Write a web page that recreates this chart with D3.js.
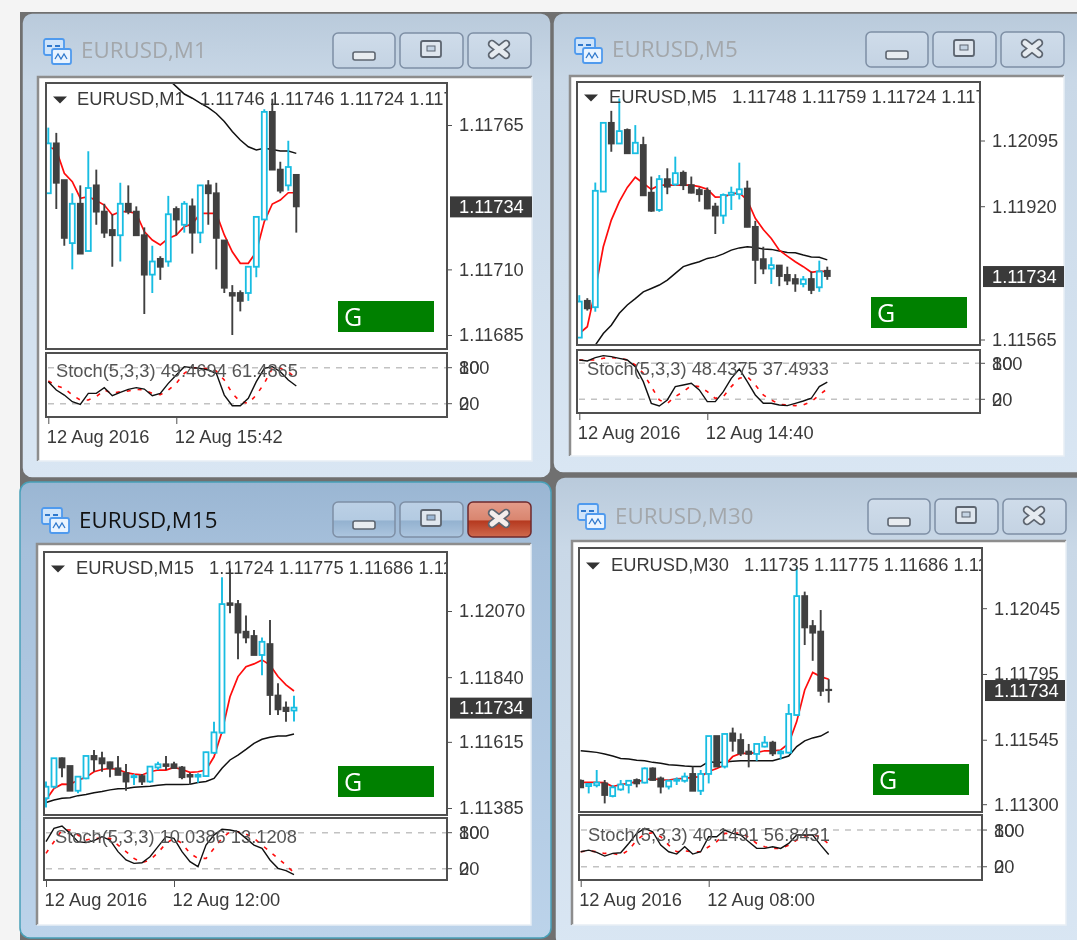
<!DOCTYPE html>
<html><head><meta charset="utf-8">
<script src="https://cdn.jsdelivr.net/npm/d3@7/dist/d3.min.js"></script>
<style>
html,body{margin:0;padding:0;background:#f4f4f4;overflow:hidden}
svg{display:block;filter:blur(0.45px)}
text{white-space:pre}
.axis text,.lbl{font-family:"Liberation Sans",sans-serif;font-size:18.3px;fill:#3a3a3a}
.title{font-family:"Open Sans",sans-serif;font-size:22.3px}
</style></head><body>
<svg id="c" width="1077" height="940"></svg>
<script>
// ---- M1 ----
const m1Open=[1.11739,1.11758,1.11744,1.11720,1.11735,1.11717,1.11742,1.11732,1.11725,1.11723,1.11735,1.11732,1.11723,1.11708,1.11714,1.11713,1.11733,1.11727,1.11734,1.11724,1.11742,1.11739,1.11721,1.11701,1.11701,1.11701,1.11711,1.11729,1.11770,1.11748,1.11742,1.11746];
const m1High=[1.11764,1.11762,1.11744,1.11739,1.11742,1.11755,1.11748,1.11735,1.11731,1.11743,1.11742,1.11734,1.11726,1.11719,1.11715,1.11738,1.11734,1.11736,1.11737,1.11742,1.11744,1.11743,1.11721,1.11704,1.11702,1.11711,1.11730,1.11771,1.11775,1.11751,1.11759,1.11746];
const m1Low=[1.11739,1.11733,1.11719,1.11710,1.11716,1.11717,1.11727,1.11722,1.11711,1.11713,1.11731,1.11723,1.11693,1.11701,1.11706,1.11711,1.11723,1.11724,1.11716,1.11720,1.11727,1.11710,1.11701,1.11685,1.11694,1.11698,1.11707,1.11729,1.11748,1.11739,1.11740,1.11724];
const m1Close=[1.11758,1.11743,1.11722,1.11735,1.11716,1.11741,1.11732,1.11724,1.11723,1.11735,1.11732,1.11723,1.11708,1.11713,1.11711,1.11731,1.11729,1.11735,1.11724,1.11742,1.11739,1.11722,1.11703,1.11700,1.11698,1.11711,1.11730,1.11770,1.11748,1.11740,1.11749,1.11734];
const m1MaFast=[1.117567,1.117555,1.117466,1.117434,1.117371,1.117377,1.117362,1.117345,1.117307,1.11732,1.11732,1.117313,1.117244,1.117212,1.117193,1.117218,1.117231,1.117263,1.117273,1.117313,1.117313,1.117313,1.117231,1.117167,1.117123,1.117123,1.117167,1.117282,1.117349,1.117364,1.117392,1.117392];
const m1MaSlow=[null,null,null,null,null,null,null,null,null,null,null,null,null,null,null,1.117824,1.117796,1.117768,1.117752,1.117733,1.117716,1.117694,1.117663,1.117625,1.117593,1.117567,1.117555,1.117561,1.117557,1.117551,1.117551,1.117542];
const m1StochK=[56.7,42.8,34.4,23.3,18.9,37.2,37.2,46.7,33.3,38.9,43.9,46.7,44.4,33.3,37.2,53.9,67.8,81.7,80,78.9,76.1,70.6,34.4,16.7,16.7,28.9,56.7,78.9,81.7,73.3,59.4,49.4694];
const m1StochD=[57.8,50,45.6,34.4,26.1,26.1,31.7,42.8,37.2,40,41.1,43.9,42.8,37.2,35,42.8,53.9,70.6,80,80,77.8,74.4,59.4,37.2,23.3,20.6,34.4,53.9,78.9,78.9,73.3,61.4865];
const m1Ticks=[1.11765,1.11710,1.11685];
const m1TimeLabels=["12 Aug 2016","12 Aug 15:42"];
// ---- M5 ----
const m5Open=[1.11570,1.11668,1.11651,1.11959,1.12142,1.12087,1.12123,1.12061,1.12083,1.11956,1.11910,1.11992,1.11978,1.12009,1.11976,1.11963,1.11961,1.11919,1.11895,1.11950,1.11952,1.11967,1.11865,1.11779,1.11754,1.11762,1.11737,1.11726,1.11713,1.11726,1.11704,1.11748];
const m5High=[1.11683,1.11675,1.11983,1.12142,1.12174,1.12207,1.12127,1.12136,1.12105,1.11999,1.12003,1.12021,1.12052,1.12015,1.11999,1.11970,1.11970,1.11929,1.11954,1.11972,1.12036,1.11988,1.11881,1.11812,1.11784,1.11763,1.11759,1.11739,1.11734,1.11746,1.11775,1.11759];
const m5Low=[1.11570,1.11642,1.11639,1.11959,1.12065,1.12086,1.12061,1.12059,1.11949,1.11905,1.11905,1.11952,1.11974,1.11963,1.11954,1.11932,1.11912,1.11846,1.11873,1.11910,1.11938,1.11864,1.11713,1.11739,1.11713,1.11707,1.11710,1.11692,1.11704,1.11686,1.11692,1.11724];
const m5Close=[1.11666,1.11648,1.11961,1.12142,1.12087,1.12120,1.12061,1.12089,1.11949,1.11908,1.11992,1.11972,1.12008,1.11976,1.11956,1.11952,1.11914,1.11895,1.11950,1.11956,1.11965,1.11865,1.11777,1.11754,1.11763,1.11734,1.11722,1.11714,1.11725,1.11697,1.11746,1.11734];
const m5MaFast=[1.11581,1.11599,1.11697,1.11812,1.11883,1.11932,1.11970,1.11997,1.11981,1.11965,1.11976,1.11976,1.11976,1.11976,1.11976,1.11972,1.11965,1.11944,1.11945,1.11952,1.11956,1.11936,1.11888,1.11858,1.11834,1.11803,1.11787,1.11772,1.11759,1.11744,1.11747,1.11746];
const m5MaSlow=[null,null,1.11550,1.11581,1.11603,1.11635,1.11657,1.11674,1.11692,1.11701,1.11710,1.11723,1.11741,1.11759,1.11766,1.11772,1.11781,1.11785,1.11793,1.11803,1.11809,1.11812,1.11810,1.11806,1.11805,1.11801,1.11797,1.11796,1.11790,1.11785,1.11784,1.11777];
const m5StochK=[85.6,83.9,89.4,92.8,91.1,88.3,85.6,74.4,49.4,13.3,8.9,18.9,41.1,43.9,46.7,35.6,16.1,16.1,32.8,55,70.6,49.4,27.2,13.3,13.3,10.6,9.4,13.3,17.2,21.7,41.1,48.4375];
const m5StochD=[85.6,85.6,85.6,88.3,89.4,88.3,85.6,77.2,63.3,41.1,18.9,13.3,24.4,32.8,42.8,41.1,32.8,21.7,24.4,41.1,55,57.8,43.9,27.2,18.9,11.7,10.6,9.4,10.6,16.1,27.2,37.4933];
const m5Ticks=[1.12095,1.11920,1.11565];
const m5TimeLabels=["12 Aug 2016","12 Aug 14:40"];
// ---- M15 ----
const m15Open=[1.11419,1.11459,1.11558,1.11531,1.11445,1.11488,1.11566,1.11558,1.11544,1.11523,1.11506,1.11492,1.11496,1.11477,1.11526,1.11537,1.11537,1.11526,1.11500,1.11494,1.11496,1.11577,1.11647,1.12097,1.12094,1.11998,1.11983,1.11917,1.11955,1.11776,1.11734,1.11724];
const m15High=[1.11477,1.11558,1.11561,1.11531,1.11496,1.11566,1.11587,1.11581,1.11546,1.11566,1.11538,1.11503,1.11503,1.11531,1.11546,1.11566,1.11546,1.11531,1.11508,1.11506,1.11581,1.11685,1.12187,1.12218,1.12108,1.12054,1.12004,1.11978,1.12039,1.11819,1.11755,1.11775];
const m15Low=[1.11387,1.11453,1.11492,1.11445,1.11436,1.11485,1.11511,1.11511,1.11492,1.11500,1.11445,1.11465,1.11465,1.11473,1.11517,1.11517,1.11522,1.11485,1.11465,1.11473,1.11494,1.11573,1.11642,1.12062,1.11902,1.11958,1.11917,1.11847,1.11708,1.11708,1.11685,1.11686];
const m15Close=[1.11459,1.11558,1.11526,1.11445,1.11494,1.11566,1.11554,1.11540,1.11523,1.11500,1.11477,1.11496,1.11477,1.11529,1.11537,1.11531,1.11524,1.11492,1.11494,1.11500,1.11579,1.11648,1.12094,1.12091,1.11995,1.11978,1.11917,1.11963,1.11778,1.11728,1.11722,1.11734];
const m15MaFast=[1.11413,1.11453,1.11468,1.11467,1.11482,1.11492,1.11511,1.11519,1.11523,1.11519,1.11508,1.11503,1.11500,1.11511,1.11517,1.11517,1.11526,1.11519,1.11509,1.11511,1.11517,1.11563,1.11650,1.11772,1.11842,1.11876,1.11886,1.11900,1.11882,1.11842,1.11813,1.11792];
const m15MaSlow=[1.11404,1.11413,1.11419,1.11421,1.11428,1.11432,1.11438,1.11442,1.11448,1.11452,1.11453,1.11457,1.11459,1.11461,1.11464,1.11467,1.11467,1.11467,1.11468,1.11474,1.11477,1.11488,1.11523,1.11552,1.11569,1.11589,1.11610,1.11624,1.11631,1.11635,1.11635,1.11642];
const m15StochK=[65,87.2,91.1,78.9,65,63.4,66.7,73.4,67.8,48.4,34.5,28.9,30,40,56.7,73.4,70.6,48.4,31.7,23.4,59.4,76.1,85.6,84.5,81.7,70.6,59.4,53.9,34.5,20.6,16.7,10.0386];
const m15StochD=[45.6,65,84.5,84.5,76.1,67.8,70.6,70.6,70.6,59.4,48.4,37.2,30,34.5,46.7,62.2,70.6,62.2,45.6,37.2,37.2,53.9,70.6,81.7,81.7,77.8,70.6,59.4,48.4,37.2,26.1,13.1208];
const m15Ticks=[1.12070,1.11840,1.11615,1.11385];
const m15TimeLabels=["12 Aug 2016","12 Aug 12:00"];
// ---- M30 ----
const m30Open=[1.11389,1.11369,1.11372,1.11379,1.11331,1.11356,1.11373,1.11392,1.11382,1.11436,1.11398,1.11367,1.11389,1.11389,1.11415,1.11351,1.11415,1.11559,1.11443,1.11569,1.11544,1.11500,1.11491,1.11519,1.11534,1.11493,1.11496,1.11639,1.12091,1.11977,1.11956,1.11735];
const m30High=[1.11394,1.11379,1.11430,1.11392,1.11373,1.11392,1.11392,1.11398,1.11440,1.11440,1.11405,1.11394,1.11402,1.11420,1.11443,1.11430,1.11559,1.11559,1.11567,1.11591,1.11569,1.11529,1.11529,1.11559,1.11541,1.11506,1.11681,1.12203,1.12108,1.12000,1.12038,1.11775];
const m30Low=[1.11364,1.11341,1.11364,1.11303,1.11326,1.11351,1.11341,1.11364,1.11379,1.11389,1.11341,1.11356,1.11373,1.11382,1.11351,1.11335,1.11379,1.11443,1.11436,1.11500,1.11483,1.11440,1.11465,1.11516,1.11483,1.11470,1.11493,1.11635,1.11905,1.11845,1.11711,1.11686];
const m30Close=[1.11364,1.11377,1.11382,1.11335,1.11364,1.11375,1.11389,1.11379,1.11436,1.11392,1.11367,1.11389,1.11394,1.11405,1.11351,1.11415,1.11559,1.11443,1.11567,1.11541,1.11493,1.11491,1.11529,1.11534,1.11493,1.11500,1.11643,1.12091,1.11972,1.11952,1.11731,1.11734];
const m30MaFast=[1.11383,1.11383,1.11383,1.11382,1.11367,1.11375,1.11379,1.11386,1.11392,1.11398,1.11392,1.11392,1.11396,1.11398,1.11402,1.11405,1.11424,1.11436,1.11449,1.11481,1.11493,1.11493,1.11496,1.11503,1.11503,1.11506,1.11531,1.11614,1.11734,1.11801,1.11785,1.11775];
const m30MaSlow=[1.11503,1.11500,1.11497,1.11491,1.11483,1.11474,1.11472,1.11467,1.11465,1.11459,1.11456,1.11450,1.11448,1.11445,1.11443,1.11443,1.11462,1.11458,1.11460,1.11463,1.11465,1.11465,1.11465,1.11465,1.11465,1.11474,1.11483,1.11519,1.11541,1.11552,1.11559,1.11576];
const m30StochK=[44.5,47.2,43.4,37.4,41.8,42.9,58.1,74.5,82.7,77.2,55.4,44.5,40.7,52.7,40.7,44.5,69.1,69.1,80,74.5,71.8,60.9,50,50,52.7,50,58.1,71.8,71.8,71.8,55.4,40.1491];
const m30StochD=[44.5,46.1,44.5,41.8,41.8,39,47.2,63.6,73.4,75.6,69.1,55.4,44.5,46.1,44.5,44.5,52.7,60.9,74.5,74.5,75.6,68,58.1,52.7,50,50,55.4,63.6,70.1,71.8,69.1,56.8431];
const m30Ticks=[1.12045,1.11795,1.11545,1.11300];
const m30TimeLabels=["12 Aug 2016","12 Aug 08:00"];

const stochLevels=[80,20];
const stochAxisLabels=[{text:"100",at:80},{text:"80",at:80},{text:"0",at:20},{text:"20",at:20}];
const signalTag="G";

// layout of the four child windows
const panels=[
 {name:"EURUSD,M1",active:false,win:[22,13,529,465],client:[38,77,494,384],titleX:81,titleY:58,iconX:43,iconY:38,btnX:333,btnY:33,
  plot:[46,83,401,266],stoch:[353,417],yD:[1.11685,1.11765],yR:[335,125],xR:[48.3,296.3],sR:[415.7,355.7],
  o:m1Open,h:m1High,l:m1Low,c:m1Close,fast:m1MaFast,slow:m1MaSlow,k:m1StochK,d:m1StochD,ticks:m1Ticks,times:m1TimeLabels,timeY:436,
  head:"EURUSD,M1   1.11746 1.11746 1.11724 1.11734",headX:77,headY:99,triX:53,stochHead:"Stoch(5,3,3) 49.4694 61.4865",sX:56,sY:371,box:[450,82],tag:[338,301]},
 {name:"EURUSD,M5",active:false,win:[553,13,540,460],client:[570,76,494,380],titleX:612,titleY:57,iconX:574,iconY:37,btnX:866,btnY:32,
  plot:[577,82,403,263],stoch:[350,413],yD:[1.11565,1.12095],yR:[339.5,140.5],xR:[579.3,827.3],sR:[411.3,351.3],
  o:m5Open,h:m5High,l:m5Low,c:m5Close,fast:m5MaFast,slow:m5MaSlow,k:m5StochK,d:m5StochD,ticks:m5Ticks,times:m5TimeLabels,timeY:432,
  head:"EURUSD,M5   1.11748 1.11759 1.11724 1.11734",headX:609,headY:97,triX:584,stochHead:"Stoch(5,3,3) 48.4375 37.4933",sX:587,sY:369,box:[983,81],tag:[871,297]},
 {name:"EURUSD,M15",active:true,win:[20,482,531,456],client:[37,544,494,381],titleX:79,titleY:528,iconX:41,iconY:507,btnX:333,btnY:502,
  plot:[44,552,403,263],stoch:[818,880],yD:[1.11385,1.12070],yR:[808,611],xR:[46,294],sR:[880.7,820.7],
  o:m15Open,h:m15High,l:m15Low,c:m15Close,fast:m15MaFast,slow:m15MaSlow,k:m15StochK,d:m15StochD,ticks:m15Ticks,times:m15TimeLabels,timeY:899,
  head:"EURUSD,M15   1.11724 1.11775 1.11686 1.11734",headX:76,headY:568,triX:51,stochHead:"Stoch(5,3,3) 10.0386 13.1208",sX:55,sY:837,box:[450,82],tag:[338,766]},
 {name:"EURUSD,M30",active:false,win:[555,477,540,470],client:[572,541,494,384],titleX:615,titleY:524,iconX:577,iconY:503,btnX:868,btnY:499,
  plot:[579,548,403,264],stoch:[815,880],yD:[1.11300,1.12045],yR:[804.2,608.2],xR:[580.7,828.7],sR:[879,817.8],
  o:m30Open,h:m30High,l:m30Low,c:m30Close,fast:m30MaFast,slow:m30MaSlow,k:m30StochK,d:m30StochD,ticks:m30Ticks,times:m30TimeLabels,timeY:899,
  head:"EURUSD,M30   1.11735 1.11775 1.11686 1.11734",headX:611,headY:565,triX:586,stochHead:"Stoch(5,3,3) 40.1491 56.8431",sX:588,sY:835,box:[985,80],tag:[873,764]}
];

const CYAN="#18bde2",DARK="#404040",RED="#ff0c0c",FRAME="#505050";
const svg=d3.select("#c");
const defs=svg.append("defs");
function grad(id,stops){const g=defs.append("linearGradient").attr("id",id).attr("x1",0).attr("x2",0).attr("y1",0).attr("y2",1);
  stops.forEach(s=>g.append("stop").attr("offset",s[0]).attr("stop-color",s[1]));}
grad("winI",[[0,"#b9cadb"],[0.15,"#c9d8e7"],[1,"#d9e6f3"]]);
grad("winA",[[0,"#9ab6d3"],[0.15,"#a6c0db"],[1,"#bcd3ea"]]);
grad("btnI",[[0,"#cfdcea"],[1,"#c4d3e3"]]);
grad("btnA",[[0,"#bcd0e5"],[0.5,"#b4cbe2"],[0.55,"#94b2d0"],[1,"#adc6df"]]);
grad("btnR",[[0,"#e49c8a"],[0.5,"#d98670"],[0.55,"#b63a20"],[1,"#cf6a4e"]]);

svg.append("rect").attr("x",20).attr("y",12).attr("width",1057).attr("height",928).attr("fill","#707070");

panels.forEach((p,i)=>{
  const g=svg.append("g");
  const [wx,wy,ww,wh]=p.win;
  g.append("rect").attr("x",wx).attr("y",wy).attr("width",ww).attr("height",wh).attr("rx",10)
    .attr("fill",`url(#${p.active?"winA":"winI"})`).attr("stroke",p.active?"#48a0b8":"#707070").attr("stroke-width",1.5);
  // client: dark edge on top and left only, as in the reference
  const [cx,cy,cw,ch]=p.client;
  g.append("rect").attr("x",cx).attr("y",cy).attr("width",cw).attr("height",ch).attr("fill","#fff");
  g.append("path").attr("d",`M${cx} ${cy+ch}V${cy}H${cx+cw}`).attr("fill","none").attr("stroke","#8d8d8d").attr("stroke-width",2.5);
  g.append("path").attr("d",`M${cx} ${cy+ch}H${cx+cw}V${cy}`).attr("fill","none").attr("stroke","#e8eef5").attr("stroke-width",1.5);
  // icon
  const ic=g.append("g").attr("transform",`translate(${p.iconX},${p.iconY})`);
  ic.append("rect").attr("x",1).attr("y",1).attr("width",20).attr("height",16).attr("rx",2).attr("fill","#cfe4fa").attr("stroke","#4f9aee").attr("stroke-width",1.8);
  ic.append("rect").attr("x",9).attr("y",11).attr("width",19).attr("height",15).attr("rx",2).attr("fill","#eaf4ff").attr("stroke","#4f9aee").attr("stroke-width",1.8);
  ic.append("path").attr("d","M12 21l3-5 3 5 3-5 3 5").attr("fill","none").attr("stroke","#2f78cc").attr("stroke-width",1.3);
  ic.append("path").attr("d","M4 8h5M12 8h5").attr("stroke","#2f78cc").attr("stroke-width",2);
  // title
  g.append("text").attr("class","title").attr("x",p.titleX).attr("y",p.titleY).attr("fill",p.active?"#111":"#a3a7ab").text(p.name);
  // buttons
  const bw=[62,63,63],bx=[0,67,135];
  bw.forEach((w,b)=>{
    const x=p.btnX+bx[b],y=p.btnY,red=p.active&&b===2;
    g.append("rect").attr("x",x).attr("y",y).attr("width",w).attr("height",35).attr("rx",5)
      .attr("fill",red?"url(#btnR)":p.active?"url(#btnA)":"url(#btnI)").attr("stroke",red?"#6e2a2e":"#7e8fa5").attr("stroke-width",1.5);
    if(b===0) g.append("rect").attr("x",x+20).attr("y",y+19).attr("width",22).attr("height",8).attr("rx",2).attr("fill","#e8ecf0").attr("stroke","#5d6570").attr("stroke-width",1.6);
    if(b===1){g.append("rect").attr("x",x+21).attr("y",y+8).attr("width",20).attr("height",16).attr("rx",2).attr("fill","#dfe6ee").attr("stroke","#5d6570").attr("stroke-width",1.8);
      g.append("rect").attr("x",x+27).attr("y",y+13).attr("width",8).attr("height",5).attr("fill",p.active?"#9db8d5":"#c4d3e3").attr("stroke","#5d6570").attr("stroke-width",1);}
    if(b===2){const xPath=`M${x+24} ${y+11}L${x+38} ${y+22}M${x+38} ${y+11}L${x+24} ${y+22}`;
      g.append("path").attr("d",xPath).attr("stroke","#5d6570").attr("stroke-width",8.5).attr("stroke-linecap","round");
      g.append("path").attr("d",xPath).attr("stroke",red?"#f4eeec":"#e6ebf0").attr("stroke-width",5).attr("stroke-linecap","round");}
  });

  // scales
  const [px,py,pw,ph]=p.plot, right=px+pw, bottom=py+ph;
  const idx=d3.range(p.o.length);
  const x=d3.scaleLinear().domain([0,p.o.length-1]).range(p.xR);
  const y=d3.scaleLinear().domain(p.yD).range(p.yR);
  const sy=d3.scaleLinear().domain([0,100]).range(p.sR);
  const [st,sb]=p.stoch;

  const clipId="clip"+i, clipS="clipS"+i;
  defs.append("clipPath").attr("id",clipId).append("rect").attr("x",px).attr("y",py).attr("width",pw).attr("height",ph);
  defs.append("clipPath").attr("id",clipS).append("rect").attr("x",px).attr("y",st).attr("width",pw).attr("height",sb-st);

  const main=g.append("g").attr("clip-path",`url(#${clipId})`);
  const line=arr=>d3.line().defined(i=>arr[i]!=null).x(i=>x(i)).y(i=>y(arr[i]))(idx);
  main.append("path").attr("d",line(p.slow)).attr("fill","none").attr("stroke","#111").attr("stroke-width",1.5);
  main.append("path").attr("d",line(p.fast)).attr("fill","none").attr("stroke",RED).attr("stroke-width",1.7);

  const cnd=main.selectAll("g.k").data(idx).join("g").attr("class","k");
  const up=i=>p.c[i]>p.o[i];
  cnd.append("line").attr("x1",i=>x(i)).attr("x2",i=>x(i)).attr("y1",i=>y(p.h[i])).attr("y2",i=>y(p.l[i]))
    .attr("stroke",i=>up(i)?CYAN:DARK).attr("stroke-width",1.9);
  cnd.append("rect").attr("x",i=>x(i)-2.5).attr("width",5)
    .attr("y",i=>y(Math.max(p.o[i],p.c[i]))).attr("height",i=>Math.max(0.4,Math.abs(y(p.o[i])-y(p.c[i]))))
    .attr("fill",i=>up(i)?"#fff":DARK).attr("stroke",i=>up(i)?CYAN:DARK).attr("stroke-width",1.8);

  // header text
  const headClip=g.append("g").attr("clip-path",`url(#${clipId})`);
  headClip.append("path").attr("d",`M${p.triX} ${p.headY-2.5}h14l-7 7z`).attr("fill","#333");
  headClip.append("text").attr("class","lbl").attr("x",p.headX).attr("y",p.headY+6).text(p.head);

  g.append("rect").attr("x",px).attr("y",py).attr("width",pw).attr("height",ph).attr("fill","none").attr("stroke",FRAME).attr("stroke-width",2);

  // price axis
  const ax=g.append("g").attr("class","axis").attr("transform",`translate(${right},0)`)
    .call(d3.axisRight(y).tickValues(p.ticks).tickSize(5).tickPadding(7).tickFormat(d3.format(".5f")));
  ax.select(".domain").remove();
  ax.selectAll("line").attr("stroke",FRAME);

  // current price box
  const lastY=y(p.c[p.c.length-1]);
  g.append("rect").attr("x",p.box[0]).attr("y",lastY-10).attr("width",p.box[1]).attr("height",21).attr("fill","#3a3a3a");
  g.append("text").attr("class","lbl").attr("x",p.box[0]+9).attr("y",lastY+6.5).style("fill","#fff").text(d3.format(".5f")(p.c[p.c.length-1]));

  // signal tag
  g.append("rect").attr("x",p.tag[0]).attr("y",p.tag[1]).attr("width",96).attr("height",31).attr("fill","#008000");
  g.append("text").attr("x",p.tag[0]+6).attr("y",p.tag[1]+25).attr("font-family","'Open Sans',sans-serif").attr("font-size",25).attr("fill","#fff").text(signalTag);

  // stochastic
  const sg=g.append("g").attr("clip-path",`url(#${clipS})`);
  sg.selectAll("line.lv").data(stochLevels).join("line").attr("class","lv")
    .attr("x1",px+2).attr("x2",right).attr("y1",d=>sy(d)).attr("y2",d=>sy(d))
    .attr("stroke","#c2c2c2").attr("stroke-width",1.5).attr("stroke-dasharray","6 6");
  const sLine=arr=>d3.line().x(i=>x(i)).y(i=>sy(arr[i]))(idx);
  sg.append("path").attr("d",sLine(p.d)).attr("fill","none").attr("stroke",RED).attr("stroke-width",1.6).attr("stroke-dasharray","4 7");
  sg.append("path").attr("d",sLine(p.k)).attr("fill","none").attr("stroke","#111").attr("stroke-width",1.4);
  sg.append("text").attr("class","lbl").attr("x",p.sX).attr("y",p.sY+6).style("fill","#555").text(p.stochHead);
  g.append("rect").attr("x",px).attr("y",st).attr("width",pw).attr("height",sb-st).attr("fill","none").attr("stroke",FRAME).attr("stroke-width",2);

  // stochastic axis: labels overlap as they do in the terminal
  const sa=g.append("g").attr("class","axis").attr("transform",`translate(${right},0)`);
  sa.selectAll("line").data(stochLevels).join("line").attr("x1",0).attr("x2",5).attr("y1",d=>sy(d)).attr("y2",d=>sy(d)).attr("stroke",FRAME);
  sa.selectAll("text").data(stochAxisLabels).join("text").attr("x",12).attr("y",d=>sy(d.at)+6.5).text(d=>d.text);

  // time axis
  const ta=g.append("g").attr("class","axis").attr("transform",`translate(0,${sb})`)
    .call(d3.axisBottom(x).tickValues([0,16]).tickSize(7).tickPadding(0).tickFormat((d,j)=>p.times[j]));
  ta.select(".domain").remove();
  ta.selectAll("line").attr("stroke",FRAME);
  ta.selectAll("text").attr("text-anchor","start").attr("dx",-2).attr("dy",0).attr("y",p.timeY-sb+6.5);
});
</script></body></html>
